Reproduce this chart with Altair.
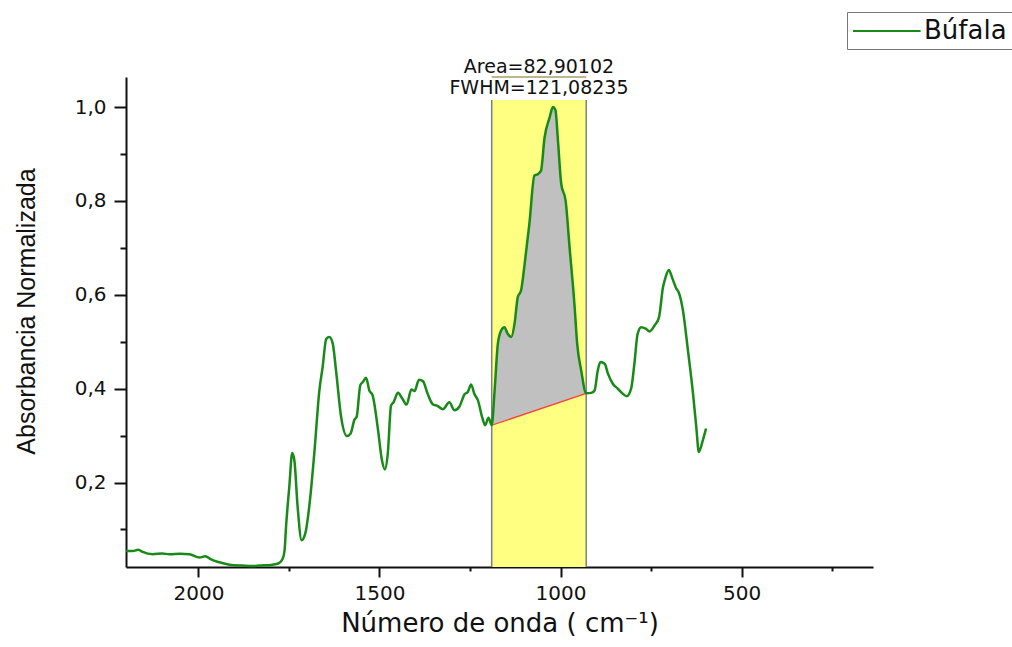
import altair as alt
import pandas as pd

# FTIR spectrum (normalized absorbance vs wavenumber)
wavenumber = [
    2200, 2181, 2166, 2154, 2126, 2100, 2080, 2050, 2025, 1997, 1981, 1965, 1942,
    1914, 1878, 1850, 1831, 1795, 1778, 1767, 1762, 1758, 1749, 1741, 1735, 1726,
    1715, 1705, 1693, 1680, 1666, 1657, 1647, 1638, 1629, 1620, 1606, 1590, 1580,
    1569, 1563, 1553, 1546, 1537, 1528, 1519, 1505, 1493, 1485, 1477, 1468, 1461,
    1449, 1437, 1425, 1412, 1403, 1391, 1380, 1367, 1353, 1339, 1325, 1307, 1293,
    1279, 1265, 1256, 1247, 1238, 1228, 1216, 1208, 1199, 1190, 1182, 1173, 1164,
    1155, 1146, 1136, 1127, 1118, 1109, 1099, 1086, 1072, 1063, 1054, 1044, 1030,
    1021, 1014, 1007, 998, 986, 975, 961, 954, 943, 929, 915, 906, 897, 890, 878,
    869, 856, 842, 828, 817, 805, 796, 787, 777, 765, 754, 740, 728, 717, 710, 701,
    692, 680, 674, 662, 648, 634, 625, 618, 607, 598,
]
absorbance = [
    0.054, 0.054, 0.057, 0.052, 0.047, 0.049, 0.047, 0.048, 0.047, 0.040, 0.043, 0.036, 0.030,
    0.025, 0.023, 0.022, 0.023, 0.025, 0.028, 0.038, 0.056, 0.106, 0.191, 0.263, 0.247, 0.148,
    0.077, 0.091, 0.155, 0.262, 0.396, 0.446, 0.506, 0.510, 0.496, 0.439, 0.340, 0.299, 0.304,
    0.334, 0.340, 0.407, 0.414, 0.423, 0.396, 0.386, 0.318, 0.247, 0.228, 0.262, 0.364, 0.371,
    0.391, 0.379, 0.366, 0.398, 0.395, 0.419, 0.416, 0.389, 0.367, 0.363, 0.356, 0.371, 0.354,
    0.362, 0.388, 0.393, 0.409, 0.389, 0.375, 0.338, 0.322, 0.338, 0.322, 0.396, 0.496, 0.524,
    0.531, 0.517, 0.510, 0.538, 0.595, 0.609, 0.666, 0.751, 0.854, 0.857, 0.864, 0.935, 0.978,
    1.000, 0.993, 0.928, 0.836, 0.801, 0.701, 0.574, 0.496, 0.439, 0.390, 0.391, 0.396, 0.439,
    0.457, 0.453, 0.432, 0.411, 0.400, 0.389, 0.384, 0.400, 0.453, 0.517, 0.531, 0.528, 0.522,
    0.535, 0.552, 0.616, 0.637, 0.653, 0.637, 0.613, 0.606, 0.567, 0.481, 0.389, 0.318, 0.265,
    0.290, 0.315,
]
series_name = "Búfala"

# Integration window and its results
window_start = 1190
window_end = 929
window_top = 1.015
area_label = "Area=82,90102"
fwhm_label = "FWHM=121,08235"

x_min, x_max = 137, 2200
y_min, y_max = 0.02, 1.064

GREEN = "#178a17"
FONT = "DejaVu Sans"

spec = pd.DataFrame({"w": wavenumber, "a": absorbance, "serie": series_name})

# straight integration baseline between the window's end points
a_start = spec.loc[spec.w == window_start, "a"].iloc[0]
a_end = spec.loc[spec.w == window_end, "a"].iloc[0]
peak = spec[(spec.w <= window_start) & (spec.w >= window_end)].copy()
peak["base"] = a_start + (a_end - a_start) * (window_start - peak.w) / (window_start - window_end)

band = pd.DataFrame({"x": [window_start], "x2": [window_end], "y": [y_min], "y2": [window_top]})
edges = pd.DataFrame({"x": [window_start, window_end], "y": [y_min, y_min], "y2": [window_top, window_top]})
bracket = pd.DataFrame({"x": [window_start], "x2": [window_end], "y": [y_max]})
baseline = pd.DataFrame({"x": [window_start], "x2": [window_end], "y": [a_start], "y2": [a_end]})
labels = pd.DataFrame({
    "x": [(window_start + window_end) / 2] * 2,
    "y": [1.0723, 1.0277],
    "t": [area_label, fwhm_label],
})

x_scale = alt.Scale(domain=[x_min, x_max], reverse=True, nice=False, zero=False)
y_scale = alt.Scale(domain=[y_min, y_max], nice=False, zero=False)

x_axis = alt.Axis(
    values=[2000, 1750, 1500, 1250, 1000, 750, 500, 250],
    labelExpr="datum.value % 500 === 0 ? format(datum.value, 'd') : ''",
    tickSize={"condition": {"test": "datum.value % 500 === 0", "value": 10}, "value": 4},
    title="Número de onda ( cm⁻¹)",
    titleFontSize=26, titleFont=FONT, titleFontWeight="normal", titleColor="#111",
    titleBaseline="alphabetic", titleY=64,
    labelFontSize=20, labelFont=FONT, labelColor="#111", labelPadding=6,
    labelOverlap=False, labelFlush=False,
    domainColor="#111", domainWidth=2, tickColor="#111", tickWidth=2, grid=False,
)
y_axis = alt.Axis(
    values=[0.1, 0.2, 0.3, 0.4, 0.5, 0.6, 0.7, 0.8, 0.9, 1.0],
    labelExpr="round(datum.value * 10) % 2 === 1 ? '' : replace(format(datum.value, '.1f'), '.', ',')",
    tickSize={"condition": {"test": "round(datum.value * 10) % 2 === 1", "value": 6}, "value": 12},
    title="Absorbancia Normalizada",
    titleFontSize=25, titleFont="Liberation Sans", titleFontWeight="normal", titleColor="#111",
    titleBaseline="alphabetic", titleX=-92, titleY=234, titleAngle=-90,
    labelFontSize=20, labelFont=FONT, labelColor="#111", labelPadding=8,
    labelOverlap=False, labelFlush=False,
    domainColor="#111", domainWidth=2, tickColor="#111", tickWidth=2, grid=False,
)

band_layer = alt.Chart(band).mark_rect(color="#ffff82").encode(
    x=alt.X("x:Q", scale=x_scale, axis=x_axis), x2="x2:Q",
    y=alt.Y("y:Q", scale=y_scale, axis=y_axis), y2="y2:Q",
)
area_layer = alt.Chart(peak).mark_area(color="#c0c0c0", opacity=1, interpolate="monotone").encode(
    x="w:Q", y="a:Q", y2="base:Q",
)
edge_layer = alt.Chart(edges).mark_rule(color="#7f7f7f", strokeWidth=1.5).encode(
    x="x:Q", y="y:Q", y2="y2:Q",
)
bracket_layer = alt.Chart(bracket).mark_rule(color="#a89c6c", strokeWidth=1.5).encode(
    x="x:Q", x2="x2:Q", y="y:Q",
)
baseline_layer = alt.Chart(baseline).mark_rule(color="#ff3b3b", strokeWidth=1.2).encode(
    x="x:Q", x2="x2:Q", y="y:Q", y2="y2:Q",
)
# legend line: a flat custom path, wider than the nominal symbol size
line_layer = alt.Chart(spec).mark_line(strokeWidth=2.5, interpolate="monotone").encode(
    x="w:Q", y="a:Q", order=alt.Order("w:Q", sort="descending"),
    color=alt.Color(
        "serie:N",
        scale=alt.Scale(domain=[series_name], range=[GREEN]),
        legend=alt.Legend(
            title=None, orient="none", legendX=721, legendY=-65,
            symbolType="M-1,0H4.2", symbolSize=676, symbolStrokeWidth=2,
            labelFont=FONT, labelFontSize=26, labelColor="#111", labelOffset=44,
            labelLimit=300, strokeColor="#777", fillColor="white", padding=5,
        ),
    ),
)
text_layer = alt.Chart(labels).mark_text(
    font=FONT, fontSize=19, color="#111", align="center", baseline="alphabetic"
).encode(x="x:Q", y="y:Q", text="t:N")

chart = alt.layer(
    band_layer, area_layer, edge_layer, bracket_layer, baseline_layer, line_layer, text_layer
).properties(
    width=747, height=490, autosize="none", background="white",
    padding={"left": 126, "top": 77, "right": 139, "bottom": 80},
).configure_view(strokeWidth=0)

chart.save("out.html", embed_options={"renderer": "svg", "actions": False})
